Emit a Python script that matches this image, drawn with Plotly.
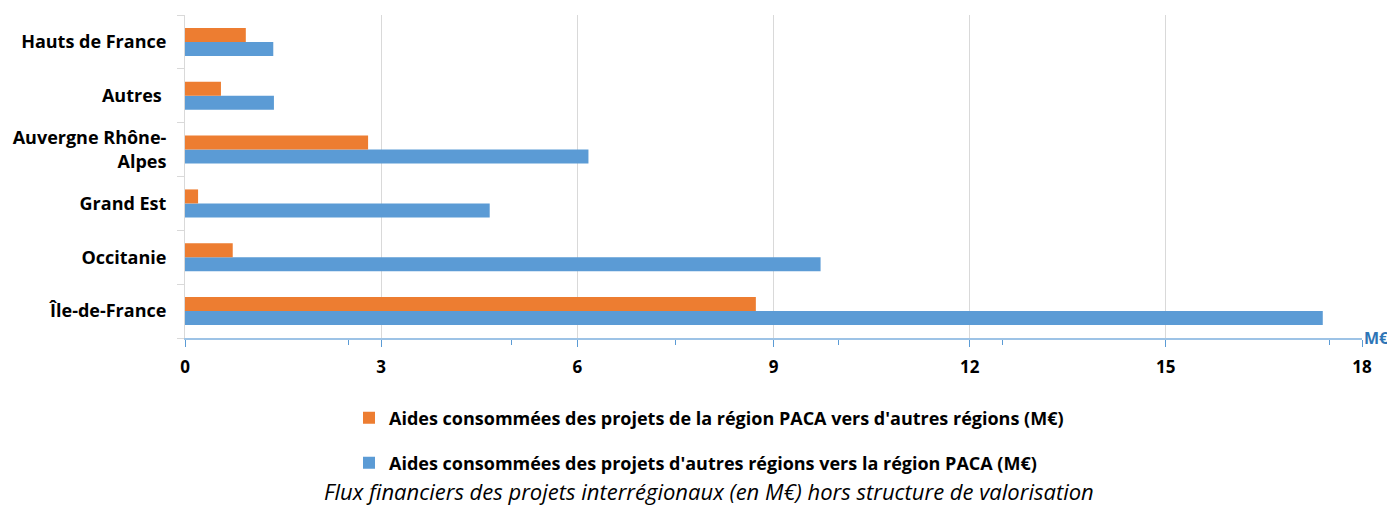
import plotly.graph_objects as go

categories = ["Île-de-France", "Occitanie", "Grand Est", "Auvergne Rhône-<br>Alpes", "Autres ", "Hauts de France"]
vers_paca = [17.4, 9.72, 4.66, 6.17, 1.36, 1.35]
depuis_paca = [8.73, 0.73, 0.20, 2.80, 0.55, 0.93]
name_orange = "Aides consommées des projets de la région PACA vers d'autres régions (M€)"
name_blue = "Aides consommées des projets d'autres régions vers la région PACA (M€)"
caption = "Flux financiers des projets interrégionaux (en M€) hors structure de valorisation"
x_ticks = [0, 3, 6, 9, 12, 15, 18]

FONT = "Open Sans"
BLUE = "#5B9BD5"
ORANGE = "#ED7D31"

fig = go.Figure()
fig.add_trace(go.Bar(y=categories, x=vers_paca, orientation="h", name=f"<b>{name_blue}</b>",
                     marker=dict(color=BLUE, line=dict(width=0)), legend="legend2"))
fig.add_trace(go.Bar(y=categories, x=depuis_paca, orientation="h", name=f"<b>{name_orange}</b>",
                     marker=dict(color=ORANGE, line=dict(width=0)), legend="legend"))

# page body has an 8px margin: figure origin sits at (8, 8) in the window
OFF = 8
W, H = 1395 - OFF, 506 - OFF
PL, PR, PT, PB = 185, 1362, 15, 338  # plot area in window pixels
L, T = PL - OFF, PT - OFF
R, B = W - (PR - OFF), H - (PB - OFF)
pw, ph = W - L - R, H - T - B

def px_x(p):
    return (p - OFF - L) / pw

def px_y(p):
    return (H - B - (p - OFF)) / ph

fig.update_layout(
    width=W, height=H,
    margin=dict(l=L, r=R, t=T, b=B, autoexpand=False),
    paper_bgcolor="white", plot_bgcolor="white",
    barmode="group", bargap=0.48, bargroupgap=0,
    font=dict(family=FONT, size=17, color="#000000"),
    xaxis=dict(
        range=[0, 18], tickvals=x_ticks, ticktext=[f"<b>{v}</b>" for v in x_ticks],
        showgrid=True, gridcolor="#D9D9D9", gridwidth=1,
        showline=True, linecolor="#9DC3E6", linewidth=2,
        ticks="outside", ticklen=7, tickcolor=BLUE, tickwidth=1,
        minor=dict(dtick=2.5, tick0=0, ticks="outside", ticklen=5, tickcolor=BLUE, showgrid=False),
        zeroline=False, fixedrange=True, ticklabelstandoff=6,
        tickfont=dict(family=FONT, size=17, color="#000000"),
    ),
    yaxis=dict(
        type="category", categoryorder="array", categoryarray=categories,
        range=[-0.5, 5.5],
        tickvals=categories, ticktext=[f"<b>{c}</b>" for c in categories],
        showline=True, linecolor="#D9D9D9", linewidth=1,
        ticks="outside", tickson="boundaries", ticklen=7, tickcolor="#D9D9D9",
        showgrid=False, zeroline=False, ticklabelstandoff=14,
        tickfont=dict(family=FONT, size=18, color="#000000"),
    ),
    legend=dict(x=px_x(349), y=px_y(418), xanchor="left", yanchor="middle",
                font=dict(family=FONT, size=18, color="#000000"), bgcolor="rgba(0,0,0,0)"),
    legend2=dict(x=px_x(349), y=px_y(463), xanchor="left", yanchor="middle",
                 font=dict(family=FONT, size=18, color="#000000"), bgcolor="rgba(0,0,0,0)"),
    showlegend=True,
)

fig.add_annotation(text="<b>M€</b>", x=1, xref="paper", y=0, yref="paper",
                   xanchor="left", yanchor="middle", xshift=0, showarrow=False,
                   font=dict(family=FONT, size=16, color="#2E75B6"))
fig.add_annotation(text=f"<i>{caption}</i>", x=px_x(709), xref="paper", y=px_y(491), yref="paper",
                   xanchor="center", yanchor="middle", showarrow=False,
                   font=dict(family=FONT, size=22, color="#000000"))

fig.write_html("out.html")
